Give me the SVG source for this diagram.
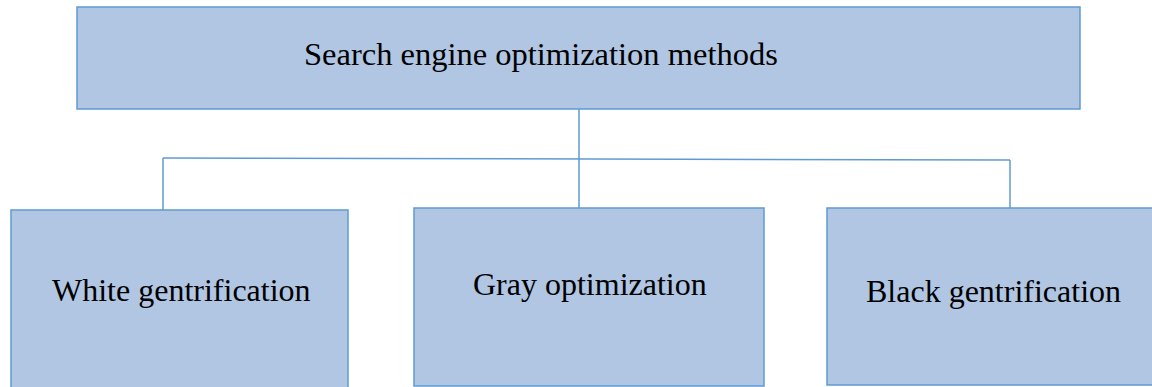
<svg xmlns="http://www.w3.org/2000/svg" width="1152" height="387" viewBox="0 0 1152 387">
<style>
.box{fill:#B0C6E3;stroke:#5F9AD3;stroke-width:1.5}
.lbl{font-family:"Liberation Serif","Times New Roman",serif;font-size:32px;fill:#000}
.conn{stroke:#5F9AD3;stroke-width:1.5;fill:none}
</style>
<rect width="1152" height="387" fill="#fff"/>
<g id="connectors">
<line class="conn" x1="579" y1="109" x2="579" y2="208"/>
<line class="conn" x1="163" y1="158" x2="1010" y2="160"/>
<line class="conn" x1="163" y1="158" x2="163" y2="210"/>
<line class="conn" x1="1010" y1="160" x2="1010" y2="210"/>
</g>
<g id="root">
<rect class="box" x="77" y="7" width="1003" height="102"/>
<text class="lbl" x="304" y="65" style="font-size:32.5px">Search engine optimization methods</text>
</g>
<g id="white">
<rect class="box" x="11" y="210" width="337" height="200"/>
<text class="lbl" x="52" y="301">White gentrification</text>
</g>
<g id="gray">
<rect class="box" x="414" y="208" width="350" height="178"/>
<text class="lbl" x="473" y="295">Gray optimization</text>
</g>
<g id="black">
<rect class="box" x="827" y="208" width="400" height="177"/>
<text class="lbl" x="866" y="302">Black gentrification</text>
</g>
</svg>
